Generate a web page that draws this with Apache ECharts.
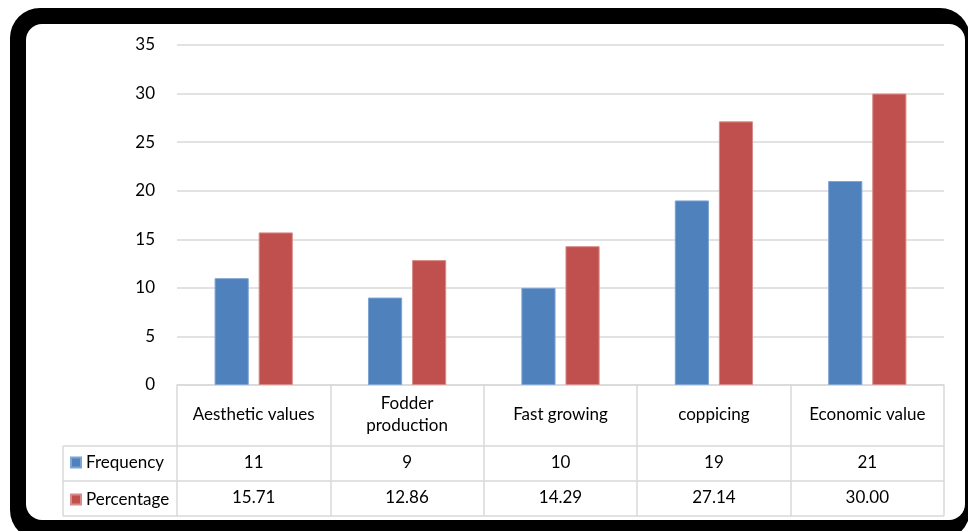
<!DOCTYPE html>
<html>
<head>
<meta charset="utf-8">
<script src="https://cdn.jsdelivr.net/npm/echarts@6/dist/echarts.min.js"></script>
<style>
  html, body { margin: 0; padding: 0; background: #fff; }
  #chart { width: 968px; height: 531px; }
</style>
</head>
<body>
<div id="chart"></div>
<script>
// Reasons reported, with counts and shares
const categories = ['Aesthetic values', 'Fodder\nproduction', 'Fast growing', 'coppicing', 'Economic value'];
const frequency = [11, 9, 10, 19, 21];
const percentage = [15.71, 12.86, 14.29, 27.14, 30.00];
const seriesNames = ['Frequency', 'Percentage'];
const yTicks = { min: 0, max: 35, interval: 5 };

// Layout
const W = 968, H = 531;
const plotLeft = 177, plotRight = 944, plotTop = 45, plotBottom = 385;
const tableLeft = 63;
const rowLines = [446, 481, 516];
const FONT = 'Lato, "Noto Sans", sans-serif';
const GRID_COLOR = '#D9D9D9';
const BLUE = '#4F81BD', RED = '#C0504D';

const chart = echarts.init(document.getElementById('chart'), null, { renderer: 'canvas' });

const hiddenAxisBits = {
  axisLine: { show: false },
  axisTick: { show: false },
  splitLine: { show: false }
};

const tableGraphics = [];
// horizontal row separators of the data table
rowLines.forEach(function (y) {
  tableGraphics.push({
    type: 'line', z: 10,
    shape: { x1: tableLeft, y1: y, x2: plotRight, y2: y },
    style: { stroke: GRID_COLOR, lineWidth: 1.5 }
  });
});
// left edge of the legend column
tableGraphics.push({
  type: 'line', z: 10,
  shape: { x1: tableLeft, y1: rowLines[0], x2: tableLeft, y2: rowLines[2] },
  style: { stroke: GRID_COLOR, lineWidth: 1.5 }
});

const option = {
  animation: false,
  textStyle: { fontFamily: FONT },
  graphic: [
    // rounded black frame
    { type: 'rect', z: -20, silent: true,
      shape: { x: 10, y: 8, width: 960, height: 532, r: 30 },
      style: { fill: '#000' } },
    { type: 'rect', z: -19, silent: true,
      shape: { x: 26, y: 24, width: 939, height: 496, r: 16 },
      style: { fill: '#fff' } }
  ].concat(tableGraphics),
  legend: {
    orient: 'vertical',
    left: 70, top: 454, padding: 0,
    itemWidth: 10, itemHeight: 10, itemGap: 20,
    icon: 'rect',
    data: seriesNames,
    textStyle: { fontFamily: FONT, fontSize: 17, color: '#000', lineHeight: 16 }
  },
  grid: {
    left: plotLeft, right: W - plotRight, top: plotTop, bottom: H - plotBottom,
    containLabel: false
  },
  xAxis: [
    {
      type: 'category', data: categories, position: 'bottom',
      axisLine: { show: true, lineStyle: { color: GRID_COLOR, width: 1.5 } },
      axisTick: { show: true, length: rowLines[2] - plotBottom, lineStyle: { color: GRID_COLOR, width: 1.5 } },
      axisLabel: {
        margin: 30, verticalAlign: 'middle', lineHeight: 22,
        fontFamily: FONT, fontSize: 17, color: '#000', interval: 0
      }
    },
    Object.assign({
      type: 'category', data: categories, position: 'bottom', gridIndex: 0,
      axisLabel: {
        margin: 78, verticalAlign: 'middle', interval: 0,
        fontFamily: FONT, fontSize: 17, color: '#000',
        formatter: function (v, i) { return String(frequency[i]); }
      }
    }, hiddenAxisBits),
    Object.assign({
      type: 'category', data: categories, position: 'bottom', gridIndex: 0,
      axisLabel: {
        margin: 113, verticalAlign: 'middle', interval: 0,
        fontFamily: FONT, fontSize: 17, color: '#000',
        formatter: function (v, i) { return percentage[i].toFixed(2); }
      }
    }, hiddenAxisBits)
  ],
  yAxis: {
    type: 'value', min: yTicks.min, max: yTicks.max, interval: yTicks.interval,
    axisLine: { show: false },
    axisTick: { show: false },
    splitLine: { lineStyle: { color: GRID_COLOR, width: 1.5 } },
    axisLabel: { margin: 22, fontFamily: FONT, fontSize: 17, color: '#000' }
  },
  series: [
    {
      name: seriesNames[0], type: 'bar', xAxisIndex: 0, data: frequency,
      barGap: '29%', barCategoryGap: '49%',
      itemStyle: { color: BLUE, borderColor: '#7FA3D3', borderWidth: 1 }
    },
    {
      name: seriesNames[1], type: 'bar', xAxisIndex: 0, data: percentage,
      barGap: '29%', barCategoryGap: '49%',
      itemStyle: { color: RED, borderColor: '#D88C8A', borderWidth: 1 }
    }
  ]
};

chart.setOption(option);
</script>
</body>
</html>
